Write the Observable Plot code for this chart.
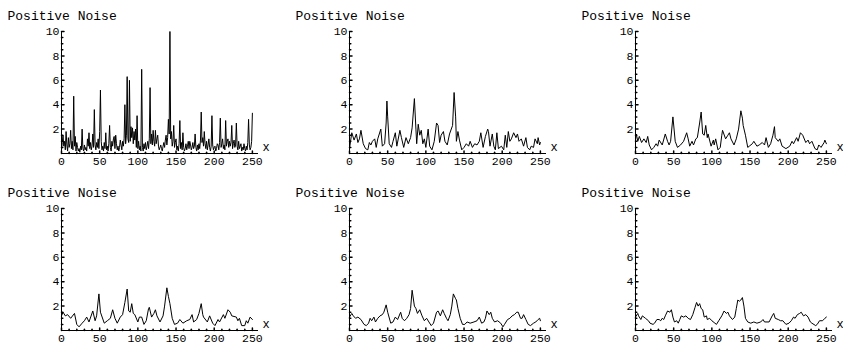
<!DOCTYPE html>
<html><head><meta charset="utf-8">
<script src="https://cdn.jsdelivr.net/npm/d3@7"></script>
<script src="https://cdn.jsdelivr.net/npm/@observablehq/plot@0.6"></script>
<style>
html,body{margin:0;padding:0;background:#fff;}
#chart{position:relative;width:843px;height:349px;overflow:hidden;background:#fff;}
#chart svg{position:absolute;overflow:visible;}
</style></head><body><div id="chart"></div>
<script>
const panelTitle = "Positive Noise";
const axisLabel = "x";
const xTicks = [0, 50, 100, 150, 200, 250];
const xMinor = [10,20,30,40,60,70,80,90,110,120,130,140,160,170,180,190,210,220,230,240];
const yTicks = [2, 4, 6, 8, 10];
const yMinor = [0.5,1,1.5,2.5,3,3.5,4.5,5,5.5,6.5,7,7.5,8.5,9,9.5];

// Panel 1: raw noise, one value per x = 0..250
const raw = [
0.3,0.9,1.5,0.6,1.0,0.3,1.8,0.7,0.2,1.3, 0.5,0.8,1.9,0.4,1.0,0.3,4.7,0.6,1.4,0.2,
0.9,0.5,0.2,0.4,0.1,0.6,0.3,2.0,0.4,0.2, 0.7,0.3,0.5,0.2,1.2,0.6,1.7,0.4,0.9,0.3,
0.6,1.6,0.5,3.6,0.7,0.3,0.9,0.5,1.2,0.4, 1.8,5.2,1.0,0.3,0.6,0.2,0.9,0.4,1.7,0.3,
0.6,0.2,0.8,2.3,0.5,0.2,1.0,0.6,1.2,1.4, 0.4,1.5,0.8,0.3,0.6,0.2,0.5,1.1,0.7,0.3,
1.0,0.6,1.2,4.0,0.8,1.5,6.3,1.2,0.9,6.0, 1.0,2.2,1.3,2.1,0.8,1.8,1.1,2.0,0.5,3.1,
0.4,1.0,0.3,0.6,0.2,6.9,0.5,0.2,0.8,0.4, 0.9,0.3,0.6,1.0,0.4,1.2,5.4,0.8,1.6,0.7,
1.9,1.0,0.6,1.9,0.8,1.2,1.5,0.6,0.3,0.5, 0.7,0.4,0.2,0.6,0.9,0.5,1.1,1.5,0.7,1.3,
2.8,1.6,10.0,1.2,1.8,0.6,1.0,2.3,0.5,0.9, 1.2,0.3,0.6,0.2,0.8,2.7,0.4,0.9,0.3,1.7,
0.5,0.2,0.4,0.8,0.3,0.6,1.0,0.4,1.0,0.7, 0.3,0.5,0.9,0.4,0.6,1.6,0.5,0.2,0.7,0.3,
0.8,0.4,1.1,3.4,0.9,1.3,0.6,1.8,0.8,0.4, 1.0,0.3,0.7,1.2,0.5,0.2,0.6,3.1,0.7,0.3,
0.5,0.6,0.2,0.4,0.8,0.7,0.3,0.9,2.9,0.5, 0.8,1.2,0.4,0.7,0.3,2.7,0.6,1.0,1.2,0.5,
1.0,0.6,0.9,2.3,0.4,0.8,1.1,0.5,0.7,2.5, 0.6,0.3,1.0,0.4,0.6,0.8,0.2,0.5,0.3,0.8,
0.4,0.2,0.6,0.3,0.9,2.8,0.7,0.3,0.5,1.0, 3.3];

// Panels 2-6: progressively smoothed noise (x positions and values)
const s2x = [0,3,6,9,11,13,15,18,21,24,26,28,30,33,35,37,41,43,46,48,49,50,52,55,57,60,62,66,68,71,74,77,80,82,85,87,88,90,92,94,96,98,100,103,105,108,111,114,116,118,120,123,125,128,131,135,137,139,140,142,144,147,150,153,156,158,161,164,167,170,172,175,178,181,182,184,187,189,191,193,195,199,202,204,206,208,210,212,215,218,220,222,225,228,231,233,236,238,241,243,246,247,249,250];
const s2y = [0.4,1.7,1.1,1.6,0.9,1.2,1.9,0.8,0.4,0.3,0.9,0.7,1.0,1.2,0.5,1.2,2.0,0.6,0.8,2.5,4.3,3.0,0.8,0.5,1.0,1.7,0.6,1.9,1.3,0.5,1.3,0.8,1.3,2.1,4.5,2.0,0.8,2.4,1.5,1.9,0.8,1.2,0.5,2.0,0.6,0.3,1.0,2.5,2.3,0.9,1.5,1.8,1.0,0.7,1.6,2.3,5.0,3.0,1.0,1.8,1.1,0.3,0.5,0.8,0.6,1.0,0.5,0.8,0.7,1.0,1.7,0.5,1.4,2.0,1.8,0.6,1.6,0.6,0.3,1.7,0.4,0.6,0.3,1.5,0.5,1.8,1.0,1.2,1.7,1.3,1.6,1.0,1.2,0.6,1.3,0.5,0.3,0.6,0.5,1.2,0.8,1.3,0.7,0.9];

const s3x = [0,1,3,5,8,11,14,16,18,21,24,27,29,31,35,39,42,44,46,49,52,55,59,63,67,69,71,74,76,79,81,84,86,88,90,92,94,95,99,102,103,105,108,111,113,114,118,121,123,125,129,132,135,136,138,140,141,144,147,149,153,155,159,162,166,169,171,174,177,180,182,183,187,189,192,197,202,205,207,211,213,216,219,223,226,228,231,235,238,240,243,247,248,250];
const s3y = [1.1,1.6,1.0,1.4,0.9,1.2,0.9,1.4,0.7,0.3,0.5,0.8,0.6,1.1,0.7,1.6,1.0,0.7,1.0,3.0,1.0,0.5,0.7,1.0,1.7,1.2,0.6,1.0,0.7,1.2,1.3,2.5,3.4,1.6,1.5,2.3,1.3,1.6,0.6,1.1,0.7,1.2,0.3,0.5,1.5,1.9,1.2,1.5,1.7,1.2,0.7,1.2,2.0,2.5,3.5,2.9,2.3,1.5,0.5,0.6,0.8,1.0,0.6,0.7,0.9,0.7,1.3,0.5,0.8,1.5,2.2,1.3,1.0,1.2,0.6,0.4,0.6,1.0,0.8,1.3,1.0,1.7,1.5,0.9,1.1,0.8,1.0,0.4,0.3,0.7,0.5,0.9,1.1,0.8];

const s4x = [0,2,5,8,12,17,20,23,27,30,33,36,41,44,46,49,51,56,60,64,67,70,73,77,80,83,86,88,90,92,94,96,100,102,105,108,111,114,115,118,121,123,125,129,133,135,138,140,142,145,148,152,155,159,164,168,171,173,177,180,183,185,186,191,194,198,201,205,207,212,214,218,221,223,229,231,233,236,240,242,244,247,250];
const s4y = [1.2,1.5,1.2,1.3,1.0,1.4,0.5,0.3,0.6,0.8,1.1,0.7,1.6,0.8,1.2,3.0,1.5,0.6,0.8,1.0,1.7,1.0,0.6,1.1,1.3,2.3,3.4,1.6,1.5,2.2,1.4,1.3,0.7,1.1,1.1,0.5,0.8,1.8,1.9,1.1,1.4,1.7,1.2,0.7,1.2,2.0,3.5,2.8,2.2,1.0,0.5,0.6,0.9,0.6,0.8,0.9,1.3,0.7,0.9,1.4,2.2,1.3,1.1,0.7,1.2,0.6,0.4,0.9,0.7,1.3,1.0,1.7,1.5,1.2,1.1,0.8,1.0,0.4,0.4,0.8,0.6,1.1,0.9];

const s5x = [0,3,5,8,11,15,19,22,25,27,29,32,34,37,40,43,45,48,50,54,57,60,63,67,69,72,75,78,80,82,85,87,89,92,95,98,101,104,107,110,114,116,119,122,124,127,129,132,134,136,139,140,142,145,148,151,154,158,163,167,170,173,176,178,180,183,185,187,190,194,198,201,203,207,210,213,216,219,221,224,226,228,231,234,237,241,244,247,249,250];
const s5y = [1.1,1.4,1.2,1.0,1.1,0.9,0.5,0.4,0.6,1.0,0.8,1.1,0.7,1.0,1.2,1.3,1.5,2.1,1.5,0.6,0.7,1.1,0.9,1.5,1.0,0.8,1.0,1.3,1.8,3.3,2.0,1.8,1.4,1.7,1.2,0.8,1.0,0.7,0.4,0.6,1.5,1.6,1.2,1.7,1.4,1.0,0.8,1.3,2.0,3.0,2.6,2.5,1.8,1.0,0.5,0.5,0.7,0.6,0.7,0.8,1.1,0.6,0.7,1.0,1.6,1.3,1.5,1.0,0.7,0.8,0.6,0.3,0.5,0.9,1.0,1.2,1.3,1.5,1.5,1.0,1.0,1.3,0.9,0.5,0.4,0.6,0.7,0.9,1.0,0.8];

const s6x = [0,3,4,7,9,13,17,19,23,25,28,31,33,35,37,39,42,45,47,49,51,54,56,58,60,63,66,69,72,75,78,80,82,84,86,88,90,93,94,97,100,104,106,109,113,116,119,121,123,127,130,132,134,136,138,140,142,144,147,151,155,159,164,167,169,175,179,181,183,187,190,193,197,201,204,207,209,212,215,217,220,223,226,229,231,236,238,241,245,248,250];
const s6y = [1.1,1.4,1.2,0.9,1.2,1.0,0.8,0.6,0.5,0.6,0.9,0.9,0.8,1.0,0.9,1.2,1.6,1.5,1.7,1.1,0.7,0.8,0.6,0.9,1.2,1.1,1.2,1.0,0.9,1.3,1.9,2.3,2.0,2.2,1.8,1.7,1.1,1.2,0.9,1.0,0.8,0.6,0.5,0.8,1.2,1.6,1.4,1.5,1.2,0.9,1.1,1.8,2.5,2.4,2.5,2.7,2.0,1.0,0.7,0.6,0.7,0.6,0.7,0.9,0.7,0.7,1.2,1.4,1.0,0.9,0.8,0.8,0.5,0.6,0.8,1.1,1.0,1.3,1.4,1.5,1.2,1.3,1.1,0.7,0.6,0.4,0.5,0.8,0.8,1.0,1.1];

const tickShape = {draw(context, l) { context.moveTo(0, 0); context.lineTo(0, -l); }};

function panel(xs, ys) {
  const n = Math.min(xs.length, ys.length);
  const data = [];
  for (let i = 0; i < n; i++) data.push({x: xs[i], y: ys[i]});
  return Plot.plot({
    width: 288, height: 172,
    marginLeft: 61, marginRight: 30, marginTop: 31, marginBottom: 19,
    x: {domain: [0, 258]},
    y: {domain: [0, 10]},
    style: {fontFamily: "'Liberation Mono', 'DejaVu Sans Mono', monospace", fontSize: "11.5px", color: "#000", background: "transparent", overflow: "visible"},
    marks: [
      Plot.line(data, {x: "x", y: "y", stroke: "#000", strokeWidth: 1}),
      Plot.ruleY([0], {stroke: "#000", strokeWidth: 1}),
      Plot.ruleX([0], {stroke: "#000", strokeWidth: 1}),
      Plot.vector(yTicks, {x: 0, y: d => d, length: 2.5, rotate: 90, anchor: "start", shape: tickShape, stroke: "#000", fill: "none"}),
      Plot.vector(yMinor, {x: 0, y: d => d, length: 1.3, rotate: 90, anchor: "start", shape: tickShape, stroke: "#000", fill: "none"}),
      Plot.vector(xTicks, {x: d => d, y: 0, length: 2.5, rotate: 0, anchor: "start", shape: tickShape, stroke: "#000", fill: "none"}),
      Plot.vector(xMinor, {x: d => d, y: 0, length: 1.3, rotate: 0, anchor: "start", shape: tickShape, stroke: "#000", fill: "none"}),
      Plot.axisY({ticks: yTicks, tickSize: 0, tickPadding: 2, label: null}),
      Plot.axisX({ticks: xTicks, tickSize: 0, tickPadding: 3, label: null}),
      Plot.text([panelTitle], {frameAnchor: "top-left", text: d => d, dx: -54, dy: -21, textAnchor: "start", fontSize: 13, fill: "#000"}),
      Plot.text([axisLabel], {frameAnchor: "bottom-right", text: d => d, dx: 4, dy: -3, textAnchor: "start", fontSize: 12, fill: "#000"})
    ]
  });
}

const series = [[d3.range(raw.length), raw], [s2x, s2y], [s3x, s3y], [s4x, s4y], [s5x, s5y], [s6x, s6y]];
const colLeft = [0, 288, 574];
const chart = document.getElementById("chart");
series.forEach(([xs, ys], i) => {
  const svg = panel(xs, ys);
  svg.style.left = colLeft[i % 3] + "px";
  svg.style.top = Math.floor(i / 3) * 177 + "px";
  chart.appendChild(svg);
});
</script></body></html>
